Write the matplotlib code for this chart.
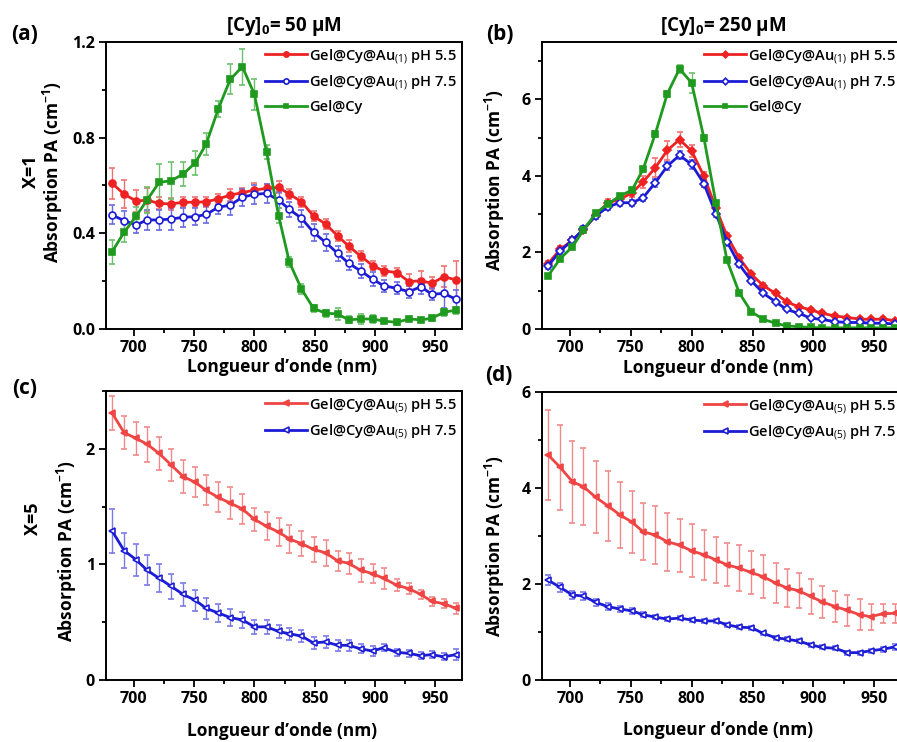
import numpy as np
import matplotlib.pyplot as plt
from matplotlib.ticker import MultipleLocator, FormatStrFormatter

plt.rcParams['font.family'] = ['Open Sans', 'DejaVu Sans']
plt.rcParams['mathtext.fontset'] = 'custom'
plt.rcParams['mathtext.rm'] = 'Open Sans'
plt.rcParams['mathtext.it'] = 'DejaVu Sans:italic'
plt.rcParams['mathtext.bf'] = 'Open Sans:bold'

# longueurs d'onde (nm)
longueurs = [682, 692, 702, 711, 721, 731, 741, 751, 760, 770, 780, 790, 800, 810, 820,
             829, 839, 849, 859, 869, 878, 888, 898, 907, 918, 928, 938, 947, 957, 967]

# (a) [Cy]0 = 50 uM, X = 1
a_ph55 = [0.609, 0.564, 0.535, 0.539, 0.525, 0.523, 0.530, 0.530, 0.532, 0.544, 0.560, 0.570,
          0.581, 0.588, 0.592, 0.564, 0.532, 0.472, 0.439, 0.389, 0.347, 0.305, 0.265, 0.243,
          0.236, 0.198, 0.202, 0.191, 0.219, 0.205]
a_ph55_err = [0.065, 0.06, 0.045, 0.05, 0.025, 0.025, 0.02, 0.02, 0.02, 0.02, 0.025, 0.02,
              0.03, 0.02, 0.025, 0.02, 0.02, 0.02, 0.02, 0.02, 0.025, 0.02, 0.02, 0.02,
              0.02, 0.03, 0.04, 0.025, 0.045, 0.08]
a_ph75 = [0.477, 0.453, 0.435, 0.456, 0.456, 0.460, 0.467, 0.470, 0.479, 0.509, 0.518, 0.551,
          0.563, 0.567, 0.539, 0.500, 0.463, 0.404, 0.362, 0.316, 0.275, 0.243, 0.208, 0.181,
          0.170, 0.156, 0.177, 0.145, 0.149, 0.124]
a_ph75_err = [0.04, 0.04, 0.035, 0.04, 0.04, 0.045, 0.04, 0.035, 0.035, 0.03, 0.04, 0.035,
              0.04, 0.04, 0.035, 0.03, 0.035, 0.035, 0.035, 0.03, 0.03, 0.03, 0.03, 0.025,
              0.025, 0.025, 0.03, 0.025, 0.06, 0.04]
a_cy = [0.323, 0.404, 0.472, 0.539, 0.613, 0.620, 0.648, 0.695, 0.773, 0.920, 1.044, 1.097,
        0.981, 0.741, 0.474, 0.279, 0.167, 0.086, 0.066, 0.063, 0.038, 0.042, 0.042, 0.033,
        0.028, 0.042, 0.038, 0.045, 0.070, 0.079]
a_cy_err = [0.05, 0.04, 0.04, 0.055, 0.077, 0.077, 0.05, 0.05, 0.045, 0.035, 0.063, 0.075,
            0.066, 0.03, 0.03, 0.02, 0.02, 0.015, 0.015, 0.025, 0.015, 0.02, 0.015, 0.01,
            0.01, 0.01, 0.01, 0.01, 0.015, 0.015]

# (b) [Cy]0 = 250 uM, X = 1
b_ph55 = [1.71, 2.08, 2.32, 2.58, 2.97, 3.30, 3.39, 3.56, 3.84, 4.21, 4.67, 4.95, 4.65, 4.00,
          3.15, 2.43, 1.86, 1.43, 1.13, 0.93, 0.71, 0.58, 0.50, 0.41, 0.34, 0.30, 0.26, 0.25,
          0.26, 0.22]
b_ph55_err = [0.08, 0.08, 0.08, 0.08, 0.08, 0.1, 0.08, 0.1, 0.15, 0.25, 0.25, 0.2, 0.15, 0.1,
              0.1, 0.08, 0.08, 0.06, 0.06, 0.05, 0.05, 0.05, 0.05, 0.05, 0.05, 0.05, 0.05,
              0.05, 0.05, 0.05]
b_ph75 = [1.65, 2.04, 2.32, 2.61, 2.95, 3.19, 3.30, 3.30, 3.43, 3.82, 4.26, 4.54, 4.30, 3.80,
          3.00, 2.28, 1.69, 1.26, 0.93, 0.71, 0.51, 0.41, 0.28, 0.25, 0.19, 0.17, 0.17, 0.15,
          0.15, 0.13]
b_ph75_err = [0.08, 0.08, 0.08, 0.08, 0.08, 0.08, 0.08, 0.08, 0.08, 0.1, 0.1, 0.1, 0.12, 0.1,
              0.08, 0.06, 0.06, 0.05, 0.05, 0.04, 0.04, 0.04, 0.04, 0.04, 0.04, 0.04, 0.04,
              0.04, 0.04, 0.04]
b_cy = [1.39, 1.84, 2.15, 2.58, 3.02, 3.26, 3.48, 3.63, 4.17, 5.09, 6.15, 6.80, 6.43, 5.00,
        3.28, 1.80, 0.95, 0.45, 0.25, 0.15, 0.08, 0.06, 0.04, 0.03, 0.03, 0.03, 0.03, 0.03,
        0.03, 0.03]
b_cy_err = [0.05, 0.05, 0.05, 0.05, 0.05, 0.05, 0.05, 0.05, 0.06, 0.08, 0.08, 0.1, 0.25, 0.08,
            0.06, 0.05, 0.04, 0.03, 0.03, 0.02, 0.02, 0.02, 0.02, 0.02, 0.02, 0.02, 0.02,
            0.02, 0.02, 0.02]

# (c) X = 5, [Cy]0 = 50 uM
c_ph55 = [2.31, 2.14, 2.09, 2.04, 1.96, 1.86, 1.76, 1.71, 1.64, 1.58, 1.53, 1.48, 1.39, 1.33,
          1.28, 1.22, 1.18, 1.13, 1.10, 1.03, 1.01, 0.95, 0.92, 0.88, 0.82, 0.79, 0.74, 0.68,
          0.66, 0.62]
c_ph55_err = [0.15, 0.14, 0.14, 0.15, 0.14, 0.14, 0.14, 0.13, 0.13, 0.13, 0.14, 0.13, 0.10,
              0.12, 0.12, 0.12, 0.11, 0.11, 0.11, 0.09, 0.09, 0.10, 0.08, 0.09, 0.05, 0.05,
              0.04, 0.04, 0.04, 0.05]
c_ph75 = [1.29, 1.12, 1.04, 0.95, 0.88, 0.81, 0.74, 0.69, 0.62, 0.58, 0.54, 0.52, 0.46, 0.46,
          0.42, 0.40, 0.38, 0.32, 0.33, 0.30, 0.30, 0.27, 0.25, 0.28, 0.24, 0.23, 0.21, 0.22,
          0.20, 0.22]
c_ph75_err = [0.19, 0.15, 0.14, 0.13, 0.12, 0.11, 0.10, 0.09, 0.09, 0.08, 0.07, 0.07, 0.06,
              0.06, 0.06, 0.05, 0.05, 0.05, 0.05, 0.05, 0.05, 0.04, 0.04, 0.03, 0.03, 0.03,
              0.03, 0.03, 0.03, 0.05]

# (d) X = 5, [Cy]0 = 250 uM
d_ph55 = [4.69, 4.43, 4.13, 4.03, 3.81, 3.63, 3.44, 3.29, 3.09, 3.02, 2.88, 2.81, 2.69, 2.61,
          2.50, 2.40, 2.33, 2.24, 2.15, 2.02, 1.92, 1.86, 1.74, 1.63, 1.53, 1.45, 1.36, 1.32,
          1.38, 1.39]
d_ph55_err = [0.93, 0.88, 0.85, 0.8, 0.75, 0.73, 0.68, 0.65, 0.6, 0.6, 0.6, 0.55, 0.55, 0.52,
              0.47, 0.45, 0.48, 0.45, 0.45, 0.42, 0.4, 0.37, 0.37, 0.33, 0.32, 0.32, 0.32,
              0.27, 0.2, 0.2]
d_ph75 = [2.08, 1.93, 1.77, 1.75, 1.62, 1.53, 1.48, 1.44, 1.36, 1.31, 1.27, 1.29, 1.25, 1.23,
          1.23, 1.15, 1.10, 1.09, 0.97, 0.88, 0.85, 0.81, 0.73, 0.68, 0.66, 0.57, 0.57, 0.61,
          0.64, 0.69]
d_ph75_err = [0.1, 0.1, 0.08, 0.08, 0.07, 0.07, 0.06, 0.06, 0.05, 0.04, 0.04, 0.04, 0.04, 0.04,
              0.04, 0.04, 0.04, 0.04, 0.04, 0.04, 0.04, 0.04, 0.04, 0.04, 0.04, 0.04, 0.04,
              0.04, 0.05, 0.06]

ROUGE = '#ee2222'
ROUGE_C = '#f04545'
BLEU = '#1c1cd6'
VERT = '#1f9a1f'

W, H = 897, 742
fig = plt.figure(figsize=(W / 100, H / 100), dpi=100)


def boite(g, h, d, b):
    return [g / W, 1 - b / H, (d - g) / W, (b - h) / H]


def tracer(ax, y, err, couleur, ecouleur, marqueur, plein, taille=5):
    cont = ax.errorbar(longueurs, y, yerr=err, color=couleur, ecolor=ecouleur, marker=marqueur,
                       mfc=couleur if plein else 'white', mec=couleur, mew=1.2, ms=taille, lw=2,
                       elinewidth=1, capsize=2.5, capthick=1)
    return cont[0]


def habiller(ax, ymax, pas, pas_min, fmt):
    ax.set_xlim(677, 972)
    ax.set_ylim(0, ymax)
    ax.xaxis.set_major_locator(MultipleLocator(50))
    ax.xaxis.set_minor_locator(MultipleLocator(25))
    ax.yaxis.set_major_locator(MultipleLocator(pas))
    ax.yaxis.set_minor_locator(MultipleLocator(pas_min))
    ax.yaxis.set_major_formatter(FormatStrFormatter(fmt))
    ax.tick_params(which='both', direction='out', width=1.3, top=False, right=False)
    ax.tick_params(which='major', length=5, labelsize=11.5, pad=3)
    ax.tick_params(which='minor', length=3)
    for lab in ax.get_xticklabels() + ax.get_yticklabels():
        lab.set_fontweight('bold')
    for sp in ax.spines.values():
        sp.set_linewidth(1.4)


def legende(ax, lignes, noms):
    ax.legend(lignes, noms, loc='upper right', bbox_to_anchor=(1.0, 1.0), frameon=False,
              handlelength=2.9, handletextpad=0.15, labelspacing=0.55,
              borderpad=0.15, borderaxespad=0.2, markerscale=0.75,
              prop={'weight': 'semibold', 'size': 10.5})


noms1 = [r'Gel@Cy@Au$_{\mathit{(1)}}$ pH 5.5', r'Gel@Cy@Au$_{\mathit{(1)}}$ pH 7.5', 'Gel@Cy']
noms5 = [r'Gel@Cy@Au$_{\mathit{(5)}}$ pH 5.5', r'Gel@Cy@Au$_{\mathit{(5)}}$ pH 7.5']

ax_a = fig.add_axes(boite(106, 42, 462, 329))
ax_b = fig.add_axes(boite(542, 42, 901, 329))
ax_c = fig.add_axes(boite(106, 391, 462, 680))
ax_d = fig.add_axes(boite(542, 392, 901, 680))

# (a)
l1 = tracer(ax_a, a_ph55, a_ph55_err, ROUGE, '#f07070', 'o', True)
l2 = tracer(ax_a, a_ph75, a_ph75_err, BLEU, '#6a6ae0', 'o', False)
l3 = tracer(ax_a, a_cy, a_cy_err, VERT, '#6cc06c', 's', True, 4.5)
habiller(ax_a, 1.2, 0.4, 0.2, '%.1f')
legende(ax_a, [l1, l2, l3], noms1)

# (b)
l1 = tracer(ax_b, b_ph55, b_ph55_err, ROUGE, '#f07070', 'D', True, 4.5)
l2 = tracer(ax_b, b_ph75, b_ph75_err, BLEU, '#6a6ae0', 'D', False, 4.5)
l3 = tracer(ax_b, b_cy, b_cy_err, VERT, '#6cc06c', 's', True, 4.5)
habiller(ax_b, 7.5, 2, 1, '%d')
legende(ax_b, [l1, l2, l3], noms1)

# (c)
l1 = tracer(ax_c, c_ph55, c_ph55_err, ROUGE_C, '#f08a8a', '<', True)
l2 = tracer(ax_c, c_ph75, c_ph75_err, BLEU, '#7a7ae6', '<', False)
habiller(ax_c, 2.5, 1, 0.5, '%d')
legende(ax_c, [l1, l2], noms5)

# (d)
l1 = tracer(ax_d, d_ph55, d_ph55_err, ROUGE_C, '#f08a8a', '<', True)
l2 = tracer(ax_d, d_ph75, d_ph75_err, BLEU, '#7a7ae6', '<', False)
habiller(ax_d, 6, 2, 1, '%d')
legende(ax_d, [l1, l2], noms5)


# textes (positions en pixels)
def texte(x, y, s, taille=12.5, rot=0):
    fig.text(x / W, 1 - y / H, s, ha='center', va='center', rotation=rot,
             fontsize=taille, fontweight='bold')


ylab = r'Absorption PA (cm$^{\mathbf{-1}}$)'
xlab = 'Longueur d’onde (nm)'

texte(284, 26, r'[Cy]$_\mathbf{0}$= 50 µM', 13.5)
texte(723, 26, r'[Cy]$_\mathbf{0}$= 250 µM', 13.5)

texte(25, 35, '(a)', 15)
texte(500, 35, '(b)', 15)
texte(25, 388, '(c)', 15)
texte(499, 376, '(d)', 15)

texte(31, 172, 'X=1', 13, 90)
texte(53, 172, ylab, 12.5, 90)
texte(495, 180, ylab, 12.5, 90)
texte(33, 519, 'X=5', 13, 90)
texte(67, 551, ylab, 12.5, 90)
texte(495, 546, ylab, 12.5, 90)

texte(282, 367, xlab)
texte(718, 368, xlab)
texte(282, 731, xlab)
texte(718, 730, xlab)

fig.savefig('out.png', dpi=100)
